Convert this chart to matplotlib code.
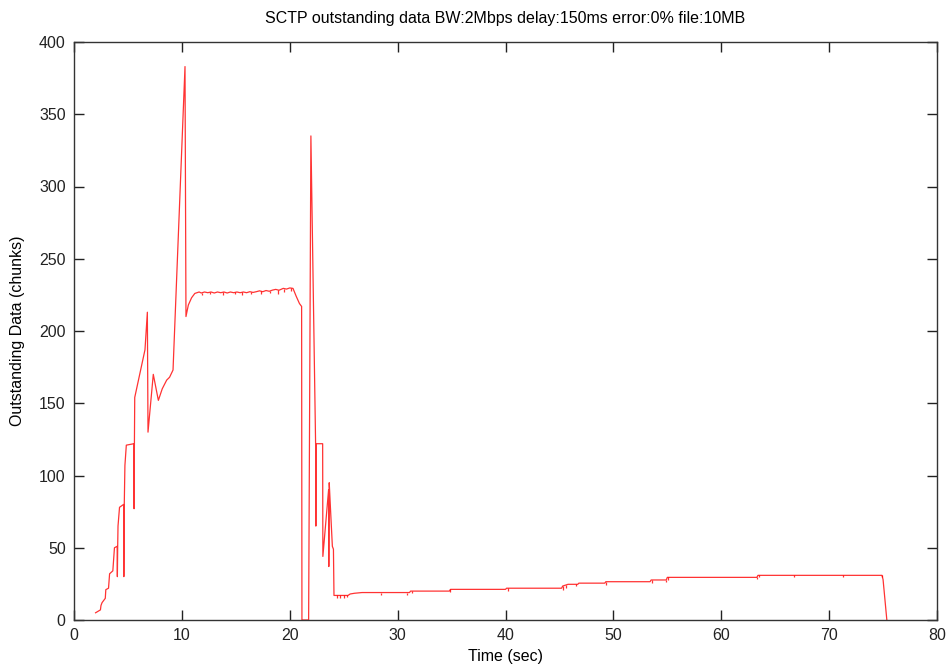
import numpy as np
import matplotlib
matplotlib.use("Agg")
import matplotlib.pyplot as plt

# outstanding data trace (time in sec, chunks)
t_sec = [2.0, 2.45, 2.5, 2.6, 2.9, 2.95, 3.2, 3.3, 3.6, 3.75, 4.0, 4.02, 4.05, 4.08, 4.22,
         4.6, 4.62, 4.66, 4.72, 4.85, 5.55, 5.57, 5.6, 5.63, 6.58, 6.8, 6.86, 7.35, 7.82,
         8.18, 8.59, 8.86, 9.18, 10.29, 10.38, 10.6, 10.9, 11.2,
         11.6, 11.8, 12.1, 12.4, 12.7, 13.0, 13.3, 13.6, 13.9, 14.2, 14.5, 14.8, 15.1,
         15.4, 15.7, 16.0, 16.3, 16.6, 16.9, 17.2, 17.5, 17.8, 18.1, 18.4, 18.7, 19.0,
         19.4, 19.7, 20.0, 20.3, 20.6, 20.9, 21.1, 21.13, 21.75, 21.96, 22.4, 22.42,
         22.45, 23.05, 23.07, 23.6, 23.62, 23.66, 23.75, 23.95, 24.05, 24.1,
         25.4, 25.6, 26.0, 26.7, 31.1, 31.2, 34.8, 34.9, 40.0, 40.1, 45.2, 45.3,
         45.8, 46.7, 46.8, 49.2, 49.3, 53.4, 53.5, 54.9, 55.0, 63.3, 63.4, 74.9,
         75.0, 75.35]
chunks = [5, 7, 10, 12, 15, 21, 22, 32, 34, 50, 51, 30, 51, 65, 78,
          80, 30, 80, 107, 121, 122, 77, 122, 154, 187, 213, 130, 170, 152,
          160, 166, 168, 173, 383, 210, 218, 223, 226,
          227, 226.3, 227, 226.5, 227, 226.3, 227, 226.5, 227, 226.3, 227, 226.5, 227,
          226.5, 227, 226.5, 227.2, 226.7, 227.2, 227.8, 227.2, 228, 227.5, 228.3, 228.8, 228.2,
          229.5, 229, 229.8, 229.5, 224, 219, 217, 0, 0, 335, 120, 65,
          122, 122, 44, 90, 37, 95, 81, 51, 49, 17,
          17, 18, 18.5, 19, 19, 20, 20, 21.2, 21.2, 22, 22, 23.5,
          24.7, 24.7, 25.5, 25.5, 26.5, 26.5, 27.7, 27.7, 29.5, 29.5, 30.9, 30.9,
          28, 0]

# short downward glitches on the trace
dip_t = [11.9, 12.6, 13.8, 14.9, 15.6, 16.4, 17.3, 18.2, 18.9, 19.5, 20.1,
         24.4, 24.7, 25.0, 25.3, 28.5, 30.9, 31.3, 34.9, 40.2, 45.3, 45.6,
         46.5, 49.3, 53.6, 54.9, 55.1, 63.3, 63.5, 66.7, 71.3, 74.9]
dip_lo = [225, 225.5, 225, 225.5, 225, 225.5, 225.5, 226.5, 225.5, 227, 227.5,
          15.5, 15.5, 15.5, 16, 17.5, 17.5, 18.5, 19.5, 20, 21, 22,
          23.5, 24.3, 25.3, 26.5, 28, 28.5, 29.5, 29.8, 29.8, 29.5]

x_ticks = [0, 10, 20, 30, 40, 50, 60, 70, 80]
y_ticks = [0, 50, 100, 150, 200, 250, 300, 350, 400]

plt.rcParams['font.family'] = ['Liberation Sans', 'DejaVu Sans']

fig = plt.figure(figsize=(9.53, 6.68), dpi=100)
ax = fig.add_axes([74 / 953, 48 / 668, 863 / 953, 578 / 668])

ax.plot(t_sec, chunks, color='#ff0000', lw=0.9, alpha=0.8)
dip_hi = np.interp(dip_t, t_sec, chunks)
ax.vlines(dip_t, dip_lo, dip_hi, color='#ff0000', lw=0.9, alpha=0.8)

ax.set_xlim(0, 80)
ax.set_ylim(0, 400)
ax.set_xticks(x_ticks)
ax.set_yticks(y_ticks)
ax.tick_params(direction='in', length=7, width=1, top=True, right=True,
               labelsize=11.5, colors='#222222', pad=6)
for s in ax.spines.values():
    s.set_color('#333333')
    s.set_linewidth(1)

ax.set_title('SCTP outstanding data BW:2Mbps delay:150ms error:0% file:10MB',
             fontsize=11.5, pad=14)
ax.set_xlabel('Time (sec)', fontsize=11.5, labelpad=4)
ax.set_ylabel('Outstanding Data (chunks)', fontsize=11.5, labelpad=10)

fig.savefig('out.png', dpi=100)
